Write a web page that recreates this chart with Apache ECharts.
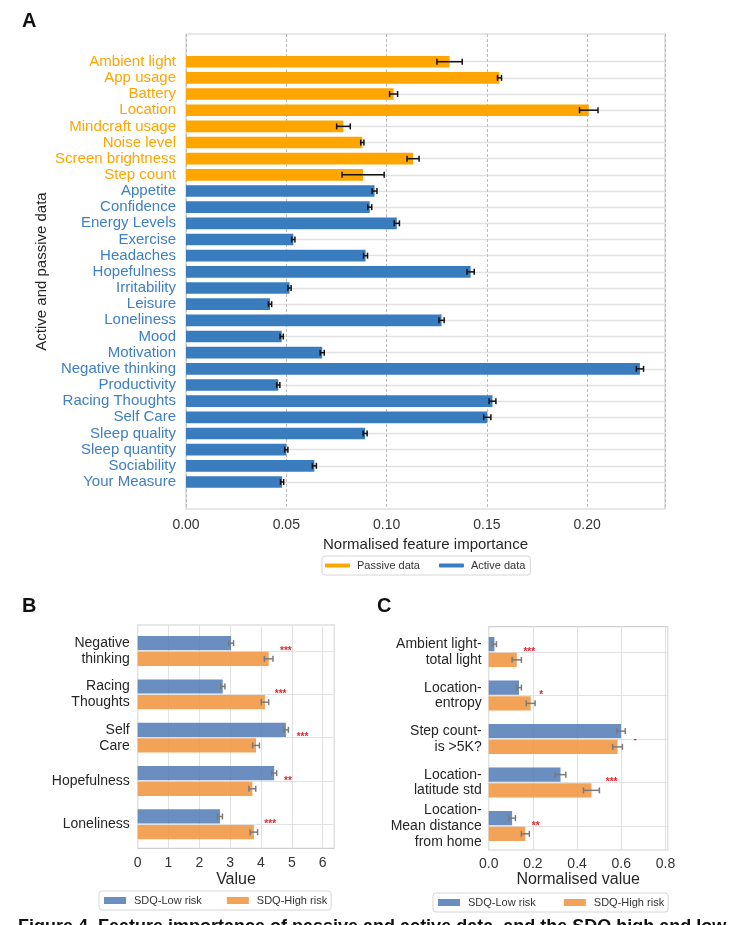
<!DOCTYPE html>
<html><head><meta charset="utf-8">
<script src="https://cdn.jsdelivr.net/npm/echarts@6/dist/echarts.min.js"></script>
<style>html,body{margin:0;padding:0;background:#fff}#c{width:729px;height:925px}</style>
</head><body><div id="c"></div><script>
// ---------- Panel A data ----------
const featureNames = ['Ambient light','App usage','Battery','Location','Mindcraft usage','Noise level','Screen brightness','Step count','Appetite','Confidence','Energy Levels','Exercise','Headaches','Hopefulness','Irritability','Leisure','Loneliness','Mood','Motivation','Negative thinking','Productivity','Racing Thoughts','Self Care','Sleep quality','Sleep quantity','Sociability','Your Measure'];
const featureIsPassive = [true,true,true,true,true,true,true,true,false,false,false,false,false,false,false,false,false,false,false,false,false,false,false,false,false,false,false];
const importance = [0.1314,0.1563,0.1035,0.2008,0.0785,0.0879,0.1132,0.0883,0.0940,0.0916,0.1051,0.0535,0.0895,0.1419,0.0516,0.0419,0.1274,0.0477,0.0679,0.2263,0.0460,0.1528,0.1502,0.0893,0.0500,0.0640,0.0479];
const importanceErr = [0.0063,0.0010,0.0020,0.0046,0.0034,0.0008,0.0030,0.0105,0.0012,0.0010,0.0013,0.0008,0.0010,0.0018,0.0008,0.0008,0.0013,0.0008,0.0010,0.0018,0.0008,0.0017,0.0018,0.0010,0.0008,0.0010,0.0008];
const aTicks = [0, 0.05, 0.10, 0.15, 0.20];
const legendA = ['Passive data','Active data'];

// ---------- Panel B data ----------
const bCategories = ['Negative\nthinking','Racing\nThoughts','Self\nCare','Hopefulness','Loneliness'];
const bLow = [3.03,2.76,4.81,4.43,2.67];
const bLowErr = [0.08,0.07,0.08,0.08,0.08];
const bHigh = [4.25,4.13,3.84,3.72,3.77];
const bHighErr = [0.14,0.12,0.11,0.11,0.12];
const bSig = ['***','***','***','**','***'];
const bSigX = [4.62,4.45,5.16,4.75,4.11];

// ---------- Panel C data ----------
const cCategories = ['Ambient light-\ntotal light','Location-\nentropy','Step count-\nis >5K?','Location-\nlatitude std','Location-\nMean distance\nfrom home'];
const cLow = [0.026,0.137,0.599,0.325,0.106];
const cLowErr = [0.009,0.011,0.019,0.024,0.015];
const cHigh = [0.127,0.190,0.583,0.465,0.166];
const cHighErr = [0.021,0.020,0.022,0.036,0.018];
const cSig = ['***','*','-','***','**'];
const cSigX = [0.157,0.229,0.655,0.530,0.195];
const groupNames = ['SDQ-Low risk','SDQ-High risk'];

// ---------- styles ----------
const FONT = "'Liberation Sans', Arial, sans-serif";
const ORANGE = '#FFA500', BLUE = '#3a7dbf', BLUE_TXT = '#3f80c2';
const LOW = '#507ab4', HIGH = '#f0933b';
const GRID_LINE = '#e2e2e2', FRAME = '#cfcfcf';
const PAIR_GAP = 0.31, BAR_GAP = 0.10;

function errBars(xi, yi, vals, errs, color, side) {
  return {
    type: 'custom', xAxisIndex: xi, yAxisIndex: yi, silent: true, clip: false, z: 10,
    data: vals.map((v, i) => [v - errs[i], v + errs[i], i]),
    encode: { x: [0, 1], y: 2 },
    renderItem(params, api) {
      const lo = api.coord([api.value(0), api.value(2)]);
      const hi = api.coord([api.value(1), api.value(2)]);
      let dy = 0;
      if (side) {
        const band = api.size([0, 1])[1];
        const w = band * (1 - PAIR_GAP) / (2 + BAR_GAP);
        dy = side * w * (1 + BAR_GAP) / 2;
      }
      const y = lo[1] + dy, c = 3;
      const st = { stroke: color, lineWidth: 1.5 };
      return { type: 'group', children: [
        { type: 'line', shape: { x1: lo[0], y1: y, x2: hi[0], y2: y }, style: st },
        { type: 'line', shape: { x1: lo[0], y1: y - c, x2: lo[0], y2: y + c }, style: st },
        { type: 'line', shape: { x1: hi[0], y1: y - c, x2: hi[0], y2: y + c }, style: st }
      ]};
    }
  };
}
function sigMarks(xi, yi, xs, labels) {
  return {
    type: 'custom', xAxisIndex: xi, yAxisIndex: yi, silent: true, clip: false, z: 11,
    data: xs.map((x, i) => [x, i]),
    encode: { x: 0, y: 1 },
    renderItem(params, api) {
      const p = api.coord([api.value(0), api.value(1)]);
      return { type: 'text', x: p[0], y: p[1], style: {
        text: labels[params.dataIndex], fill: '#e3262f', font: 'bold 10px ' + FONT,
        align: 'left', verticalAlign: 'middle' } };
    }
  };
}
function hiddenValueAxis(gi, min, max) {
  return { type: 'value', gridIndex: gi, min, max, show: false, splitLine: { show: false } };
}
function pairBars(xi, yi, name, vals, color) {
  return { type: 'bar', name, xAxisIndex: xi, yAxisIndex: yi, data: vals, clip: false,
    barCategoryGap: (PAIR_GAP * 100) + '%', barGap: (BAR_GAP * 100) + '%',
    itemStyle: { color, opacity: 0.85 }, z: 3 };
}
const legendCommon = {
  orient: 'horizontal', icon: 'rect', itemWidth: 22, itemHeight: 7,
  textStyle: { fontFamily: FONT, fontSize: 11, color: '#333', padding: [0, 0, 0, 3] },
  borderColor: '#d6d6d6', borderWidth: 1, borderRadius: 3, padding: [4, 4, 4, 5], itemGap: 25,
  data: groupNames, selectedMode: false
};

const option = {
  backgroundColor: '#fff',
  animation: false,
  textStyle: { fontFamily: FONT },
  title: [
    { text: 'A', left: 17, top: 6, textStyle: { fontFamily: FONT, fontWeight: 'bold', fontSize: 20, color: '#111' } },
    { text: 'B', left: 17, top: 591, textStyle: { fontFamily: FONT, fontWeight: 'bold', fontSize: 20, color: '#111' } },
    { text: 'C', left: 372, top: 591, textStyle: { fontFamily: FONT, fontWeight: 'bold', fontSize: 20, color: '#111' } }
  ],
  legend: [
    { left: 322, top: 556, data: legendA, icon: 'roundRect', itemWidth: 25, itemHeight: 4, itemGap: 19,
      selectedMode: false,
      textStyle: { fontFamily: FONT, fontSize: 11, color: '#333', padding: [0, 0, 0, 2] },
      borderColor: '#d6d6d6', borderWidth: 1, borderRadius: 3, padding: [4, 5, 4, 3] },
    Object.assign({ left: 99, top: 891 }, legendCommon),
    Object.assign({ left: 433, top: 893 }, legendCommon, { itemGap: 28 })
  ],
  grid: [
    { left: 186, top: 34, width: 479, height: 475, show: true, borderColor: FRAME, borderWidth: 1.2, containLabel: false },
    { left: 186, top: 61.7, width: 479, height: 420.3, containLabel: false },
    { left: 137.7, top: 625, width: 196.6, height: 223.3, show: true, borderColor: FRAME, borderWidth: 1.2 },
    { left: 137.7, top: 651, width: 196.6, height: 173.3 },
    { left: 488.7, top: 626.7, width: 179, height: 223.3, show: true, borderColor: FRAME, borderWidth: 1.2 },
    { left: 488.7, top: 652, width: 179, height: 174 }
  ],
  xAxis: [
    { type: 'value', gridIndex: 0, min: 0, max: 0.2388, interval: 0.05,
      axisLine: { show: false }, axisTick: { show: false },
      axisLabel: { fontSize: 14, color: '#333', margin: 9, fontFamily: FONT,
        formatter: v => aTicks.some(t => Math.abs(t - v) < 1e-9) ? v.toFixed(2) : '' },
      splitLine: { show: true, lineStyle: { color: '#bdbdbd', type: [3, 2], width: 1 } },
      name: 'Normalised feature importance', nameLocation: 'middle', nameGap: 27,
      nameTextStyle: { fontSize: 15, color: '#262626', fontFamily: FONT } },
    hiddenValueAxis(1, 0, 0.2388),
    { type: 'value', gridIndex: 2, min: 0, max: 6.38, interval: 1,
      axisLine: { show: false }, axisTick: { show: false },
      axisLabel: { fontSize: 14, color: '#333', margin: 8, fontFamily: FONT },
      splitLine: { show: true, lineStyle: { color: GRID_LINE, width: 1 } },
      name: 'Value', nameLocation: 'middle', nameGap: 22,
      nameTextStyle: { fontSize: 16, color: '#262626', fontFamily: FONT } },
    hiddenValueAxis(3, 0, 6.38),
    { type: 'value', gridIndex: 4, min: 0, max: 0.81, interval: 0.2,
      axisLine: { show: false }, axisTick: { show: false },
      axisLabel: { fontSize: 14, color: '#333', margin: 7, fontFamily: FONT,
        formatter: v => v.toFixed(1) },
      splitLine: { show: true, lineStyle: { color: GRID_LINE, width: 1 } },
      name: 'Normalised value', nameLocation: 'middle', nameGap: 22,
      nameTextStyle: { fontSize: 16, color: '#262626', fontFamily: FONT } },
    hiddenValueAxis(5, 0, 0.81)
  ],
  yAxis: [
    { type: 'value', gridIndex: 0, min: 0, max: 1,
      axisLine: { show: false }, axisTick: { show: false }, axisLabel: { show: false },
      splitLine: { show: false },
      name: 'Active and passive data', nameLocation: 'middle', nameRotate: 90, nameGap: 137,
      nameTextStyle: { fontSize: 15, color: '#262626', fontFamily: FONT } },
    { type: 'category', gridIndex: 1, data: featureNames, inverse: true, boundaryGap: false,
      axisLine: { show: false }, axisTick: { show: false },
      axisLabel: { interval: 0, fontSize: 15, margin: 10, fontFamily: FONT,
        color: (v, i) => featureIsPassive[i] ? ORANGE : BLUE_TXT },
      splitLine: { show: true, interval: 0, lineStyle: { color: GRID_LINE, width: 1.3 } } },
    { type: 'value', gridIndex: 2, min: 0, max: 1, show: false, splitLine: { show: false } },
    { type: 'category', gridIndex: 3, data: bCategories, inverse: true, boundaryGap: false,
      axisLine: { show: false }, axisTick: { show: false },
      axisLabel: { interval: 0, fontSize: 14, margin: 8, color: '#262626', lineHeight: 16, fontFamily: FONT },
      splitLine: { show: true, interval: 0, lineStyle: { color: GRID_LINE, width: 1 } } },
    { type: 'value', gridIndex: 4, min: 0, max: 1, show: false, splitLine: { show: false } },
    { type: 'category', gridIndex: 5, data: cCategories, inverse: true, boundaryGap: false,
      axisLine: { show: false }, axisTick: { show: false },
      axisLabel: { interval: 0, fontSize: 14, margin: 7, color: '#262626', lineHeight: 15.7, fontFamily: FONT },
      splitLine: { show: true, interval: 0, lineStyle: { color: GRID_LINE, width: 1 } } }
  ],
  series: [
    { type: 'bar', name: legendA[0], xAxisIndex: 1, yAxisIndex: 1, clip: false,
      data: importance.map((v, i) => featureIsPassive[i] ? v : '-'),
      barCategoryGap: '28%', barGap: '-100%', itemStyle: { color: ORANGE }, z: 3 },
    { type: 'bar', name: legendA[1], xAxisIndex: 1, yAxisIndex: 1, clip: false,
      data: importance.map((v, i) => featureIsPassive[i] ? '-' : v),
      barCategoryGap: '28%', barGap: '-100%', itemStyle: { color: BLUE }, z: 3 },
    errBars(1, 1, importance, importanceErr, '#111', 0),

    pairBars(3, 3, groupNames[0], bLow, LOW),
    pairBars(3, 3, groupNames[1], bHigh, HIGH),
    errBars(3, 3, bLow, bLowErr, '#7a7a7a', -1),
    errBars(3, 3, bHigh, bHighErr, '#7a7a7a', 1),
    sigMarks(3, 3, bSigX, bSig),

    pairBars(5, 5, groupNames[0], cLow, LOW),
    pairBars(5, 5, groupNames[1], cHigh, HIGH),
    errBars(5, 5, cLow, cLowErr, '#7a7a7a', -1),
    errBars(5, 5, cHigh, cHighErr, '#7a7a7a', 1),
    sigMarks(5, 5, cSigX, cSig)
  ],
  graphic: [
    { type: 'text', left: 18, top: 918, style: {
      text: 'Figure 4. Feature importance of passive and active data, and the SDQ high and low',
      font: 'bold 18px ' + FONT, fill: '#111' } }
  ]
};
const chart = echarts.init(document.getElementById('c'));
chart.setOption(option);
</script></body></html>
